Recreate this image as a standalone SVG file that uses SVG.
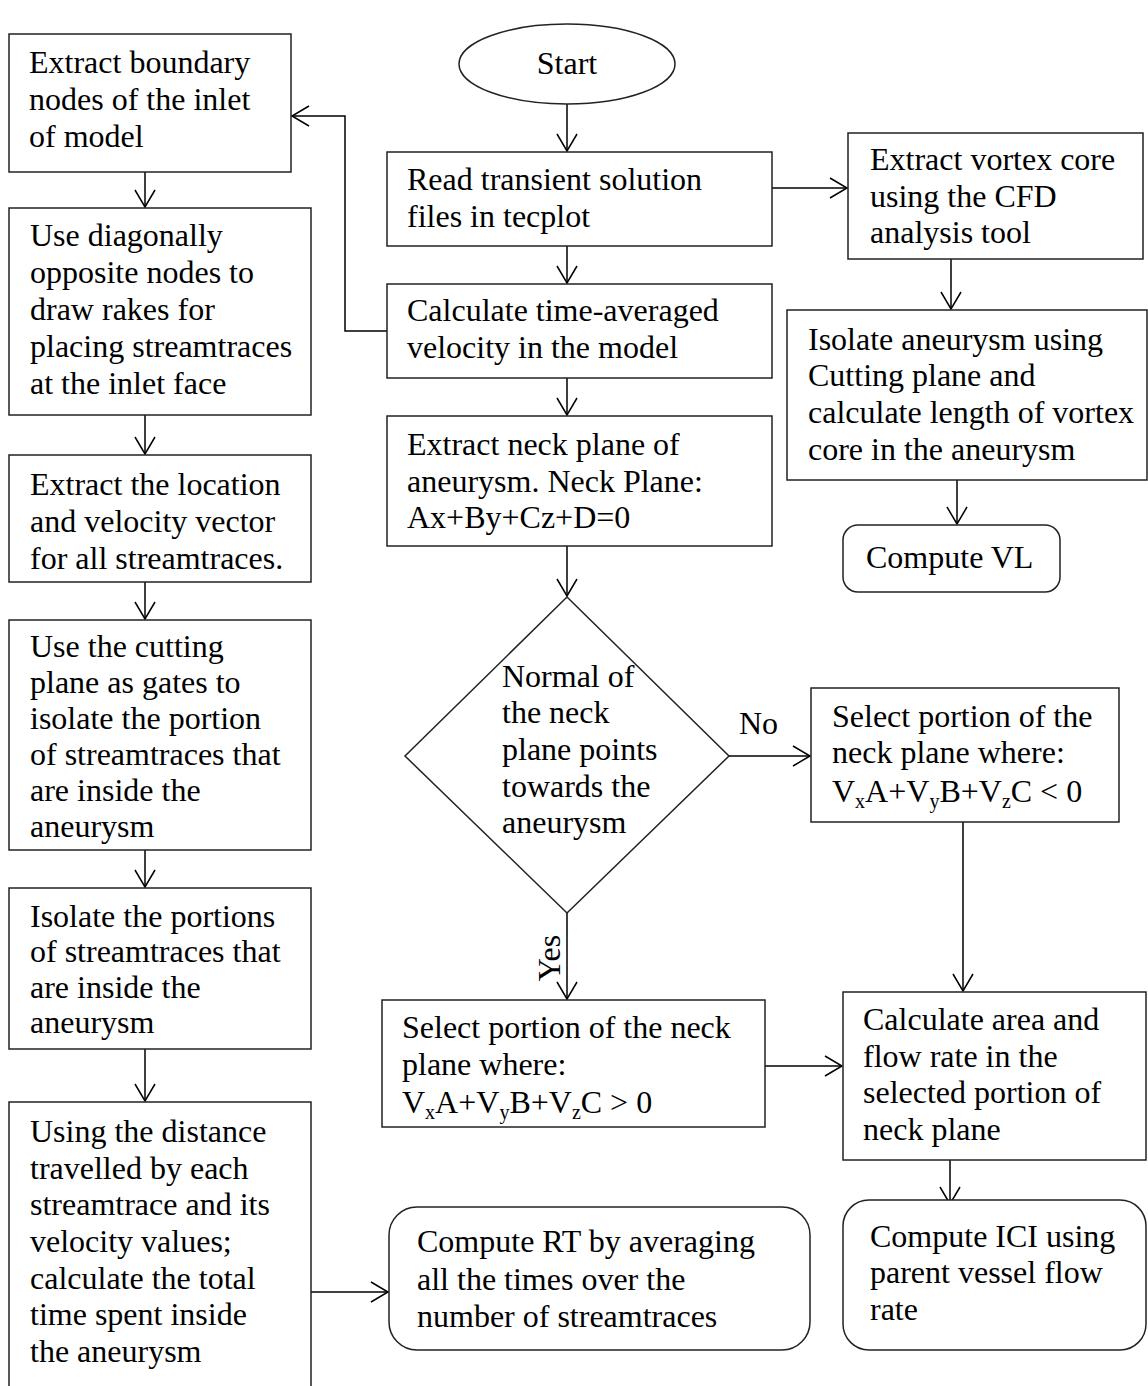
<svg xmlns="http://www.w3.org/2000/svg" width="1148" height="1386" viewBox="0 0 1148 1386">
<defs>
<style>
.box{fill:#fff;stroke:#222;stroke-width:1.5}
.t{font-family:"Liberation Serif","Times New Roman",serif;font-size:32px;fill:#000}
.c{fill:none;stroke:#000;stroke-width:1.5}
.s{font-size:20px}
</style>
<marker id="ah" viewBox="-20 -12 22 24" refX="0" refY="0" markerWidth="22" markerHeight="24" markerUnits="userSpaceOnUse" orient="auto">
<path d="M-17,-10 L0,0 L-17,10" fill="none" stroke="#000" stroke-width="1.5"/>
</marker>
</defs>
<rect width="1148" height="1386" fill="#fff"/>

<g id="connectors">
<line class="c" x1="145" y1="172" x2="145" y2="207" marker-end="url(#ah)"/>
<line class="c" x1="145" y1="415" x2="145" y2="454" marker-end="url(#ah)"/>
<line class="c" x1="145" y1="582" x2="145" y2="619" marker-end="url(#ah)"/>
<line class="c" x1="145" y1="850" x2="145" y2="887" marker-end="url(#ah)"/>
<line class="c" x1="145" y1="1049" x2="145" y2="1101" marker-end="url(#ah)"/>
<line class="c" x1="311" y1="1292" x2="388" y2="1292" marker-end="url(#ah)"/>
<line class="c" x1="567" y1="104" x2="567" y2="151" marker-end="url(#ah)"/>
<line class="c" x1="567" y1="246" x2="567" y2="283" marker-end="url(#ah)"/>
<line class="c" x1="567" y1="378" x2="567" y2="415" marker-end="url(#ah)"/>
<line class="c" x1="567" y1="546" x2="567" y2="596" marker-end="url(#ah)"/>
<path class="c" d="M387,331 H345 V116 H292" marker-end="url(#ah)"/>
<line class="c" x1="772" y1="188" x2="847" y2="188" marker-end="url(#ah)"/>
<line class="c" x1="951" y1="259" x2="951" y2="309" marker-end="url(#ah)"/>
<line class="c" x1="957" y1="480" x2="957" y2="524" marker-end="url(#ah)"/>
<line class="c" x1="729" y1="756" x2="810" y2="756" marker-end="url(#ah)"/>
<line class="c" x1="567" y1="913" x2="567" y2="999" marker-end="url(#ah)"/>
<line class="c" x1="765" y1="1066" x2="842" y2="1066" marker-end="url(#ah)"/>
<line class="c" x1="963" y1="822" x2="963" y2="991" marker-end="url(#ah)"/>
<line class="c" x1="950" y1="1160" x2="950" y2="1204" marker-end="url(#ah)"/>
<text class="t" x="739" y="734">No</text>
<text class="t" transform="translate(560,958) rotate(-90)" text-anchor="middle">Yes</text>
</g>

<g id="n-start">
<ellipse class="box" cx="567" cy="64" rx="108" ry="40"/>
<text class="t" x="567" y="74" text-anchor="middle">Start</text>
</g>

<g id="n-extract-boundary">
<rect class="box" x="9" y="34" width="282" height="138"/>
<text class="t"><tspan x="29" y="73">Extract boundary</tspan><tspan x="29" y="110">nodes of the inlet</tspan><tspan x="29" y="147">of model</tspan></text>
</g>

<g id="n-diagonal">
<rect class="box" x="9" y="208" width="302" height="207"/>
<text class="t"><tspan x="30" y="246">Use diagonally</tspan><tspan x="30" y="283">opposite nodes to</tspan><tspan x="30" y="320">draw rakes for</tspan><tspan x="30" y="357">placing streamtraces</tspan><tspan x="30" y="394">at the inlet face</tspan></text>
</g>

<g id="n-location">
<rect class="box" x="9" y="455" width="302" height="127"/>
<text class="t"><tspan x="30" y="495">Extract the location</tspan><tspan x="30" y="532">and velocity vector</tspan><tspan x="30" y="569">for all streamtraces.</tspan></text>
</g>

<g id="n-cutting">
<rect class="box" x="9" y="620" width="302" height="230"/>
<text class="t"><tspan x="30" y="657">Use the cutting</tspan><tspan x="30" y="693">plane as gates to</tspan><tspan x="30" y="729">isolate the portion</tspan><tspan x="30" y="765">of streamtraces that</tspan><tspan x="30" y="801">are inside the</tspan><tspan x="30" y="837">aneurysm</tspan></text>
</g>

<g id="n-isolate-portions">
<rect class="box" x="9" y="888" width="302" height="161"/>
<text class="t"><tspan x="30" y="927">Isolate the portions</tspan><tspan x="30" y="962">of streamtraces that</tspan><tspan x="30" y="998">are inside the</tspan><tspan x="30" y="1033">aneurysm</tspan></text>
</g>

<g id="n-distance">
<rect class="box" x="9" y="1102" width="302" height="300"/>
<text class="t"><tspan x="30" y="1142">Using the distance</tspan><tspan x="30" y="1179">travelled by each</tspan><tspan x="30" y="1215">streamtrace and its</tspan><tspan x="30" y="1252">velocity values;</tspan><tspan x="30" y="1289">calculate the total</tspan><tspan x="30" y="1325">time spent inside</tspan><tspan x="30" y="1362">the aneurysm</tspan></text>
</g>

<g id="n-read">
<rect class="box" x="387" y="152" width="385" height="94"/>
<text class="t"><tspan x="407" y="190">Read transient solution</tspan><tspan x="407" y="227">files in tecplot</tspan></text>
</g>

<g id="n-calc-velocity">
<rect class="box" x="387" y="284" width="385" height="94"/>
<text class="t"><tspan x="407" y="321">Calculate time-averaged</tspan><tspan x="407" y="358">velocity in the model</tspan></text>
</g>

<g id="n-neck">
<rect class="box" x="387" y="416" width="385" height="130"/>
<text class="t"><tspan x="407" y="455">Extract neck plane of</tspan><tspan x="407" y="492">aneurysm. Neck Plane:</tspan><tspan x="407" y="528">Ax+By+Cz+D=0</tspan></text>
</g>

<g id="n-decision">
<polygon class="box" points="567,597 729,756 567,913 405,756"/>
<text class="t"><tspan x="502" y="687">Normal of</tspan><tspan x="502" y="723">the neck</tspan><tspan x="502" y="760">plane points</tspan><tspan x="502" y="797">towards the</tspan><tspan x="502" y="833">aneurysm</tspan></text>
</g>

<g id="n-select-yes">
<rect class="box" x="382" y="1000" width="383" height="127"/>
<text class="t"><tspan x="402" y="1038">Select portion of the neck</tspan><tspan x="402" y="1075">plane where:</tspan><tspan x="402" y="1113">V<tspan class="s" dy="6">x</tspan><tspan dy="-6">A+V</tspan><tspan class="s" dy="6">y</tspan><tspan dy="-6">B+V</tspan><tspan class="s" dy="6">z</tspan><tspan dy="-6">C &gt; 0</tspan></tspan></text>
</g>

<g id="n-select-no">
<rect class="box" x="811" y="688" width="308" height="134"/>
<text class="t"><tspan x="832" y="727">Select portion of the</tspan><tspan x="832" y="763">neck plane where:</tspan><tspan x="832" y="802">V<tspan class="s" dy="6">x</tspan><tspan dy="-6">A+V</tspan><tspan class="s" dy="6">y</tspan><tspan dy="-6">B+V</tspan><tspan class="s" dy="6">z</tspan><tspan dy="-6">C &lt; 0</tspan></tspan></text>
</g>

<g id="n-calc-area">
<rect class="box" x="843" y="992" width="303" height="168"/>
<text class="t"><tspan x="863" y="1030">Calculate area and</tspan><tspan x="863" y="1067">flow rate in the</tspan><tspan x="863" y="1103">selected portion of</tspan><tspan x="863" y="1140">neck plane</tspan></text>
</g>

<g id="n-ici">
<rect class="box" x="843" y="1200" width="303" height="150" rx="26"/>
<text class="t"><tspan x="870" y="1247">Compute ICI using</tspan><tspan x="870" y="1283">parent vessel flow</tspan><tspan x="870" y="1320">rate</tspan></text>
</g>

<g id="n-rt">
<rect class="box" x="389" y="1207" width="421" height="143" rx="28"/>
<text class="t"><tspan x="417" y="1252">Compute RT by averaging</tspan><tspan x="417" y="1290">all the times over the</tspan><tspan x="417" y="1327">number of streamtraces</tspan></text>
</g>

<g id="n-vortex">
<rect class="box" x="848" y="133" width="295" height="126"/>
<text class="t"><tspan x="870" y="170">Extract vortex core</tspan><tspan x="870" y="207">using the CFD</tspan><tspan x="870" y="243">analysis tool</tspan></text>
</g>

<g id="n-isolate-aneurysm">
<rect class="box" x="787" y="310" width="360" height="170"/>
<text class="t"><tspan x="808" y="350">Isolate aneurysm using</tspan><tspan x="808" y="386">Cutting plane and</tspan><tspan x="808" y="423">calculate length of vortex</tspan><tspan x="808" y="460">core in the aneurysm</tspan></text>
</g>

<g id="n-vl">
<rect class="box" x="843" y="525" width="217" height="67" rx="15"/>
<text class="t" x="866" y="568">Compute VL</text>
</g>
</svg>
